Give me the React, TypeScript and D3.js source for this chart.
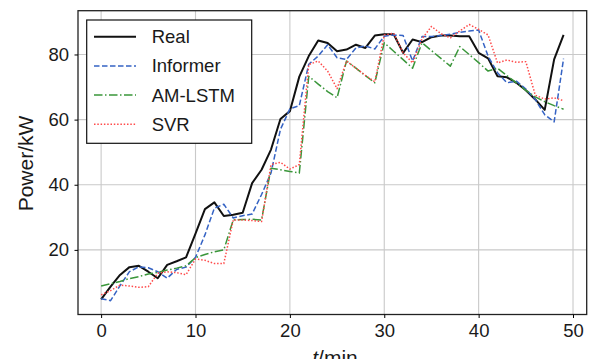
import * as d3 from "d3";
import React, { useRef, useEffect } from 'react'

// values, one per minute (t = 0..49)
const real = [4.8, 8.7, 12.3, 14.7, 15.1, 13.3, 11.3, 15.4, 16.5, 17.7, 25.0, 32.5, 34.6, 30.4, 30.8, 31.4, 40.5, 44.6, 50.8, 60.2, 62.6, 73.2, 79.5, 84.3, 83.5, 81.0, 81.5, 83.0, 82.0, 85.8, 86.2, 86.2, 80.5, 84.6, 83.8, 85.3, 85.8, 85.8, 85.6, 85.6, 80.5, 78.8, 73.3, 73.0, 71.3, 69.0, 66.2, 63.0, 78.5, 86.0]
const informer = [5.0, 4.4, 9.0, 13.3, 14.8, 14.5, 13.3, 11.3, 14.0, 14.7, 17.7, 24.6, 32.8, 34.0, 29.8, 30.5, 31.0, 37.0, 43.6, 57.0, 63.3, 64.3, 77.0, 79.5, 83.0, 79.0, 78.5, 82.0, 82.6, 81.7, 85.6, 86.0, 85.8, 78.0, 85.5, 85.5, 85.8, 86.2, 86.8, 87.2, 87.5, 79.5, 74.4, 71.3, 71.8, 69.4, 66.2, 61.5, 59.3, 78.7]
const amLstm = [8.9, 9.6, 10.3, 11.2, 11.8, 12.6, 13.1, 13.8, 14.4, 15.1, 17.6, 18.6, 19.4, 20.0, 29.2, 29.3, 29.4, 29.2, 45.1, 44.6, 44.1, 43.6, 73.3, 70.9, 68.6, 66.7, 78.0, 75.8, 73.5, 71.3, 83.6, 81.0, 78.4, 75.8, 83.6, 81.2, 78.8, 76.4, 82.4, 80.0, 77.5, 74.9, 75.8, 73.5, 71.3, 69.0, 67.0, 65.5, 64.3, 63.2]
const svr = [6.2, 7.5, 9.2, 8.9, 8.5, 8.7, 12.8, 13.3, 13.0, 12.4, 17.2, 16.8, 15.8, 15.8, 29.2, 29.2, 29.0, 28.7, 46.2, 46.9, 44.8, 46.2, 76.9, 78.0, 74.9, 69.5, 78.0, 75.8, 73.6, 71.6, 86.0, 86.5, 80.5, 77.4, 84.8, 88.6, 86.4, 85.1, 87.2, 89.2, 87.7, 86.0, 77.4, 78.3, 77.6, 77.8, 67.5, 66.3, 66.7, 65.8]

const seriesNames = ["Real", "Informer", "AM-LSTM", "SVR"]
const xTicks = [0, 10, 20, 30, 40, 50]
const yTicks = [20, 40, 60, 80]

const FONT = "'Liberation Sans', Arial, sans-serif"
const W = 595, H = 359
const plot = { l: 78, r: 586.7, t: 10.7, b: 314.5 }

const styles = [
  { color: "#111111", width: 2, dash: "" },
  { color: "#3563c4", width: 1.5, dash: "5.5 2.5" },
  { color: "#3a963a", width: 1.5, dash: "8.5 2.5 1.5 2.5" },
  { color: "#ff4a4a", width: 1.5, dash: "1.5 1.8" },
]

const App: React.FC = () => {
  const gx = useRef(null)
  const gy = useRef(null)

  const all = [real, informer, amLstm, svr]
  const n = real.length

  // matplotlib-like 5% margins
  const xPad = (n - 1) * 0.05
  const x = d3.scaleLinear([-xPad, n - 1 + xPad], [plot.l, plot.r])
  const [lo, hi] = d3.extent(all.flat()) as [number, number]
  const yPad = (hi - lo) * 0.05
  const y = d3.scaleLinear([lo - yPad, hi + yPad], [plot.b, plot.t])

  const line = d3.line<number>().x((_, i) => x(i)).y(d => y(d))

  useEffect(() => {
    if (!gx.current) return
    const g = d3.select(gx.current as SVGGElement)
    g.call(d3.axisBottom(x).tickValues(xTicks).tickSize(3.5).tickPadding(5.5).tickSizeOuter(0))
    g.select(".domain").remove()
    g.attr("font-size", 18.5).attr("font-family", FONT)
    g.selectAll("text").attr("fill", "#1a1a1a")
  }, [gx, x])

  useEffect(() => {
    if (!gy.current) return
    const g = d3.select(gy.current as SVGGElement)
    g.call(d3.axisLeft(y).tickValues(yTicks).tickSize(3.5).tickPadding(5.5).tickSizeOuter(0))
    g.select(".domain").remove()
    g.attr("font-size", 18.5).attr("font-family", FONT)
    g.selectAll("text").attr("fill", "#1a1a1a")
  }, [gy, y])

  const legY = 36.7, legStep = 29.2

  return (
    <svg width={W} height={H} style={{ position: "absolute", left: 0, top: 0, background: "white" }}>
      {/* grid */}
      {xTicks.map(t => (
        <line key={"gx" + t} x1={x(t)} x2={x(t)} y1={plot.t} y2={plot.b} stroke="#c9c9c9" strokeWidth={1.1} />
      ))}
      {yTicks.map(t => (
        <line key={"gy" + t} x1={plot.l} x2={plot.r} y1={y(t)} y2={y(t)} stroke="#c9c9c9" strokeWidth={1.1} />
      ))}

      {all.map((s, k) => (
        <path key={seriesNames[k]} d={line(s) || ""} fill="none" stroke={styles[k].color}
          strokeWidth={styles[k].width} strokeDasharray={styles[k].dash} strokeLinejoin="round" />
      ))}

      <rect x={plot.l} y={plot.t} width={plot.r - plot.l} height={plot.b - plot.t} fill="none" stroke="#222" strokeWidth={1.3} />
      <g ref={gx} transform={`translate(0, ${plot.b})`} />
      <g ref={gy} transform={`translate(${plot.l}, 0)`} />

      {/* legend */}
      <rect x={86.7} y={20} width={165} height={123.3} fill="white" stroke="#111" strokeWidth={1.2} />
      {seriesNames.map((name, k) => (
        <g key={"leg" + name}>
          <line x1={94} x2={136} y1={legY + k * legStep} y2={legY + k * legStep} stroke={styles[k].color}
            strokeWidth={styles[k].width} strokeDasharray={styles[k].dash} />
          <text x={151.7} y={legY + k * legStep} dy="0.35em" fontSize={18.5} fontFamily={FONT} fill="#1a1a1a">{name}</text>
        </g>
      ))}

      <text transform="translate(33.3, 163.5) rotate(-90)" textAnchor="middle" fontSize={21} fontFamily={FONT} fill="#1a1a1a">Power/kW</text>
      <text x={335} y={365} textAnchor="middle" fontSize={21} fontFamily={FONT} fill="#1a1a1a">
        <tspan fontStyle="italic">t</tspan>/min
      </text>
    </svg>
  )
}

export default App
